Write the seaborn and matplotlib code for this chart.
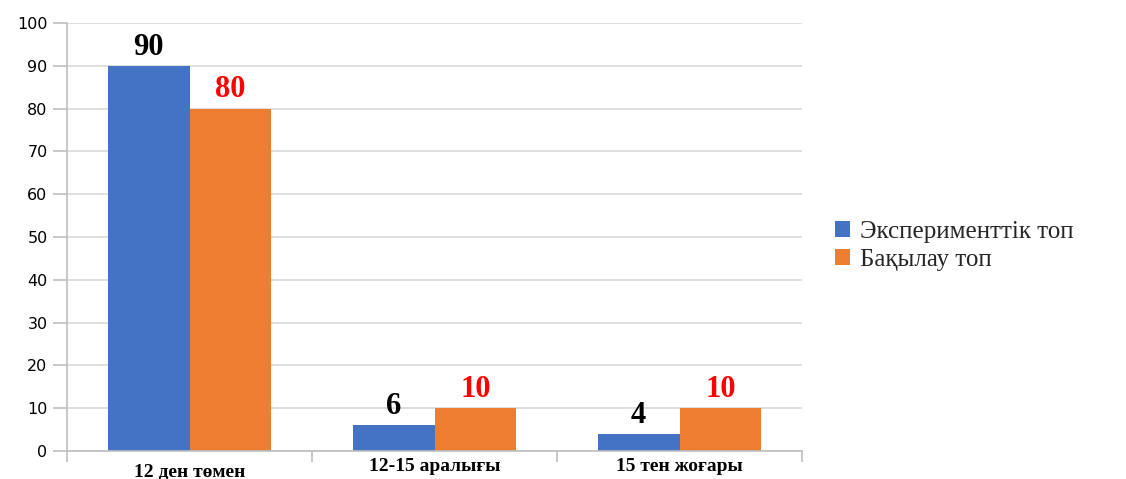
import matplotlib
matplotlib.use("Agg")
import matplotlib.pyplot as plt
import seaborn as sns
import pandas as pd
from matplotlib.patches import Patch

categories = ["12 ден төмен", "12-15 аралығы", "15 тен жоғары"]
series_names = ["Эксперименттік топ", "Бақылау топ"]
experimental = [90, 6, 4]
control = [80, 10, 10]
y_ticks = [0, 10, 20, 30, 40, 50, 60, 70, 80, 90, 100]

colors = ["#4472C4", "#ED7D31"]
label_colors = ["#000000", "#FF0000"]

sns.set_theme(style="white")
plt.rcParams['font.family'] = ['DejaVu Sans']
serif = ['Liberation Serif', 'DejaVu Serif']

df = pd.DataFrame({
    "cat": categories * 2,
    "val": experimental + control,
    "grp": [series_names[0]] * 3 + [series_names[1]] * 3,
})

fig = plt.figure(figsize=(11.26, 4.79), dpi=100)
ax = fig.add_axes([67 / 1126, 1 - 451 / 479, (802 - 67) / 1126, (451 - 23) / 479])

sns.barplot(data=df, x="cat", y="val", hue="grp", order=categories,
            hue_order=series_names, palette=colors, saturation=1,
            width=0.667, ax=ax, legend=False, errorbar=None, linewidth=0)

ax.set_xlim(-0.5, 2.5)
ax.set_ylim(0, 100)
ax.set_yticks(y_ticks)
ax.set_yticklabels([str(t) for t in y_ticks], fontsize=11.5, color="#000000")
ax.yaxis.grid(True, color="#D9D9D9", linewidth=1.2)
ax.set_axisbelow(True)
ax.set_xlabel("")
ax.set_ylabel("")

for s in ["top", "right"]:
    ax.spines[s].set_visible(False)
for s in ["left", "bottom"]:
    ax.spines[s].set_color("#BFBFBF")
    ax.spines[s].set_linewidth(1.2)

ax.tick_params(axis="y", direction="out", length=10, width=1.2, color="#BFBFBF", pad=4, left=True)
ax.set_xticks([0, 1, 2])
ax.set_xticklabels(categories, fontsize=14, fontweight="bold", family=serif, color="#000000")
ax.tick_params(axis="x", which="major", length=0, pad=5)
ax.set_xticks([-0.5, 0.5, 1.5, 2.5], minor=True)
ax.tick_params(axis="x", which="minor", direction="out", length=8, width=1.2, color="#BFBFBF", bottom=True)
ax.xaxis.get_major_ticks()[0].set_pad(9)

for cont, lc in zip(ax.containers, label_colors):
    ax.bar_label(cont, labels=[f"{v:.0f}" for v in cont.datavalues], padding=3,
                 fontsize=22, fontweight="bold", family=serif, color=lc)

handles = [Patch(facecolor=c, edgecolor="none") for c in colors]
fig.legend(handles, series_names, loc="center left", bbox_to_anchor=(835 / 1126, 1 - 246 / 479),
           frameon=False, prop={"family": serif, "size": 18}, handlelength=0.6, handleheight=0.6,
           handletextpad=0.4, labelspacing=0.25, borderpad=0, borderaxespad=0)

fig.savefig("out.png", dpi=100)
